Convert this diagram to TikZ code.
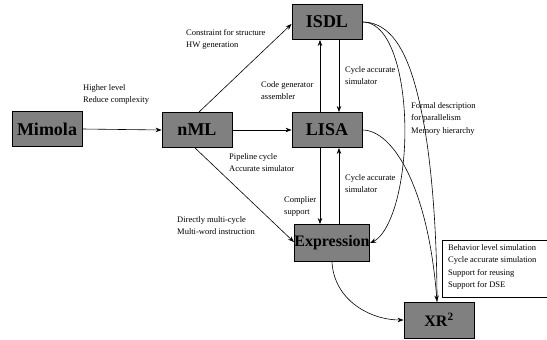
\documentclass[tikz,border=0pt]{standalone}
\usepackage{fontspec}
\setmainfont{Liberation Serif}[BoldFont={Liberation Serif Bold}]
\usetikzlibrary{arrows.meta,calc}
\begin{document}
\begin{tikzpicture}[x=1pt,y=-1pt,
  blk/.style={draw=black,line width=0.9pt,fill=black!50,minimum width=70pt,minimum height=35pt,inner sep=0pt,font=\bfseries\fontsize{18}{20}\selectfont},
  lbl/.style={anchor=north west,align=left,inner sep=0pt,font=\fontsize{8.5}{12.5}\selectfont},
  arr/.style={-{Stealth[length=6pt,width=4.5pt]},line width=0.6pt},
  ln/.style={line width=0.6pt}]
\useasboundingbox (0,0) rectangle (547,340);
% boxes
\node[blk] (mim) at (47,129) {Mimola};
\node[blk] (nml) at (197,130) {nML};
\node[blk] (isdl) at (327,22) {ISDL};
\node[blk] (lisa) at (327,130) {LISA};
\node[blk,minimum height=37pt,font=\bfseries\fontsize{16}{18}\selectfont] (expr) at (332,243) {Expression};
\node[blk,minimum height=36pt,font=\bfseries\fontsize{16}{18}\selectfont] (xr) at (439,320) {XR\textsuperscript{2}};
% feature box (open at the right edge)
\node[lbl] (featt) at (448,244) {Behavior level simulation\\Cycle accurate simulation\\Support for reusing\\Support for DSE};
\draw[line width=0.6pt] (549,240) -- (442,240) -- (442,297) -- (549,297);
% straight arrows
\draw[arr] (mim.east) -- (nml.west);
\draw[arr] (nml.east) -- (lisa.west);
\draw[arr] ([xshift=2pt]nml.north) -- ([yshift=-2pt]isdl.west);
\draw[arr] ([xshift=-2pt]nml.south) -- ([yshift=1pt]expr.west);
\draw[arr] ([xshift=-7pt]lisa.north) -- ([xshift=-7pt]isdl.south);
\draw[arr] ([xshift=12pt]isdl.south) -- ([xshift=12pt]lisa.north);
\draw[arr] ([xshift=-7pt]lisa.south) -- ([xshift=-12pt]expr.north);
\draw[arr] ([xshift=7pt]expr.north) -- ([xshift=12pt]lisa.south);
% curves
\coordinate (xrin) at ([xshift=-2pt]xr.north);
\draw[arr] (isdl.east) .. controls (398,22) and (410,105) .. (403,165) .. controls (398,210) and (385,236) .. (expr.east);
\draw[ln] (isdl.east) .. controls (402,22) and (416,80) .. (425,130) .. controls (434,185) and (437,250) .. (xrin);
\draw[arr] (lisa.east) .. controls (392,130) and (428,185) .. (xrin);
\draw[arr] (expr.south) .. controls (334,300) and (370,320) .. (xr.west);
% labels
\node[lbl] at (83,84) {Higher level\\Reduce complexity};
\node[lbl] at (186,29) {Constraint for structure\\HW generation};
\node[lbl] at (261,81) {Code generator\\assembler};
\node[lbl] at (345,66) {Cycle accurate\\simulator};
\node[lbl] at (411,102) {Formal description\\for parallelism\\Memory hierarchy};
\node[lbl] at (229,153) {Pipeline cycle\\Accurate simulator};
\node[lbl] at (177,216) {Directly multi-cycle\\Multi-word instruction};
\node[lbl] at (345,174) {Cycle accurate\\simulator};
\node[lbl] at (284,196) {Complier\\support};
\end{tikzpicture}
\end{document}
